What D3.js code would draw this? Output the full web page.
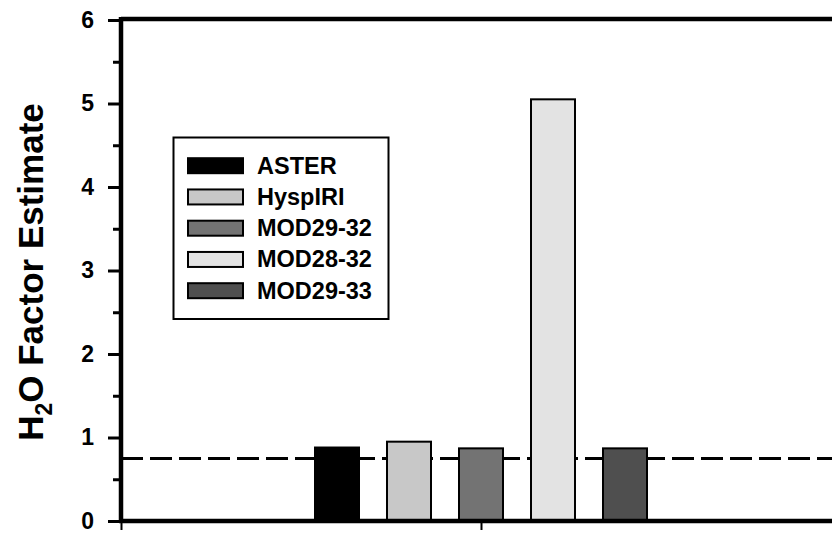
<!DOCTYPE html>
<html>
<head>
<meta charset="utf-8">
<script src="https://cdn.jsdelivr.net/npm/d3@7"></script>
<style>
  html, body { margin: 0; padding: 0; background: #fff; }
  svg { display: block; font-family: "Liberation Sans", Arial, sans-serif; }
</style>
</head>
<body>
<svg id="chart" width="832" height="534"></svg>
<script>
// Water-vapour factor estimate per sensor/band combination
const categories = ["ASTER", "HyspIRI", "MOD29-32", "MOD28-32", "MOD29-33"];
const values = [0.88, 0.95, 0.87, 5.05, 0.87];
const fills = ["#000000", "#c8c8c8", "#737373", "#e3e3e3", "#4f4f4f"];
const referenceLevel = 0.75;
const yMajorTicks = [0, 1, 2, 3, 4, 5, 6];
const yMinorTicks = [0.5, 1.5, 2.5, 3.5, 4.5, 5.5];
const xTicks = [0, 0.5, 1];

const svg = d3.select("#chart");

const plotLeft = 121, plotRight = 841, plotTop = 20, plotBottom = 521;

const x = d3.scaleLinear().domain([0, 1]).range([plotLeft, plotRight]);
const y = d3.scaleLinear().domain([0, 6]).range([plotBottom, plotTop]);
const xCat = d3.scalePoint().domain(categories).range([x(0.3), x(0.7)]);
const barWidth = 44;

// dashed reference level
svg.append("line")
  .attr("x1", plotLeft).attr("x2", plotRight)
  .attr("y1", y(referenceLevel)).attr("y2", y(referenceLevel))
  .attr("stroke", "#000").attr("stroke-width", 3)
  .attr("stroke-dasharray", "22 7");

// bars
svg.append("g").selectAll("rect")
  .data(categories)
  .join("rect")
  .attr("x", d => xCat(d) - barWidth / 2)
  .attr("y", (d, i) => y(values[i]))
  .attr("width", barWidth)
  .attr("height", (d, i) => y(0) - y(values[i]))
  .attr("fill", (d, i) => fills[i])
  .attr("stroke", "#000")
  .attr("stroke-width", 2);

// frame top
svg.append("line")
  .attr("x1", plotLeft).attr("x2", plotRight)
  .attr("y1", plotTop - 1).attr("y2", plotTop - 1)
  .attr("stroke", "#000").attr("stroke-width", 4.5);

// y axis
const yAxis = svg.append("g")
  .attr("transform", `translate(${plotLeft},0)`)
  .call(d3.axisLeft(y).tickValues(yMajorTicks).tickSize(13).tickPadding(14).tickFormat(d3.format("d")));
yAxis.select(".domain").remove();
yAxis.selectAll(".tick line").attr("stroke-width", 3);
yAxis.selectAll(".tick text")
  .attr("font-size", 23).attr("font-weight", "bold")
  .attr("font-family", "Liberation Sans, Arial, sans-serif")
  .attr("fill", "#000");

const yMinor = svg.append("g")
  .attr("transform", `translate(${plotLeft},0)`)
  .call(d3.axisLeft(y).tickValues(yMinorTicks).tickSize(8).tickFormat(""));
yMinor.select(".domain").remove();
yMinor.selectAll(".tick line").attr("stroke-width", 3);

svg.append("line")
  .attr("x1", plotLeft).attr("x2", plotLeft)
  .attr("y1", plotTop - 3).attr("y2", plotBottom + 2)
  .attr("stroke", "#000").attr("stroke-width", 4.5);

// x axis
const xAxis = svg.append("g")
  .attr("transform", `translate(0,${plotBottom})`)
  .call(d3.axisBottom(x).tickValues(xTicks).tickSize(9).tickFormat(""));
xAxis.select(".domain").remove();
xAxis.selectAll(".tick line").attr("stroke-width", 2);

svg.append("line")
  .attr("x1", plotLeft - 2).attr("x2", plotRight)
  .attr("y1", plotBottom).attr("y2", plotBottom)
  .attr("stroke", "#000").attr("stroke-width", 4.5);

// y title with subscript
const title = svg.append("text")
  .attr("transform", `translate(43,272) rotate(-90)`)
  .attr("text-anchor", "middle")
  .attr("font-size", 35).attr("font-weight", "bold")
  .attr("fill", "#000");
title.append("tspan").text("H");
title.append("tspan").attr("font-size", 23).attr("dy", 9).text("2");
title.append("tspan").attr("dy", -9).text("O Factor Estimate");

// legend
const legend = svg.append("g");
legend.append("rect")
  .attr("x", 173.5).attr("y", 137.5)
  .attr("width", 215).attr("height", 181.5)
  .attr("fill", "#fff").attr("stroke", "#000").attr("stroke-width", 2);

const rows = legend.selectAll("g.row")
  .data(categories)
  .join("g")
  .attr("class", "row")
  .attr("transform", (d, i) => `translate(0,${165.7 + i * 31.25})`);
rows.append("rect")
  .attr("x", 188).attr("y", -7.5)
  .attr("width", 55).attr("height", 15)
  .attr("fill", (d, i) => fills[i])
  .attr("stroke", "#000").attr("stroke-width", 2);
rows.append("text")
  .attr("x", 257).attr("y", 8)
  .attr("font-size", 23.5).attr("font-weight", "bold")
  .attr("fill", "#000")
  .text(d => d);
</script>
</body>
</html>
